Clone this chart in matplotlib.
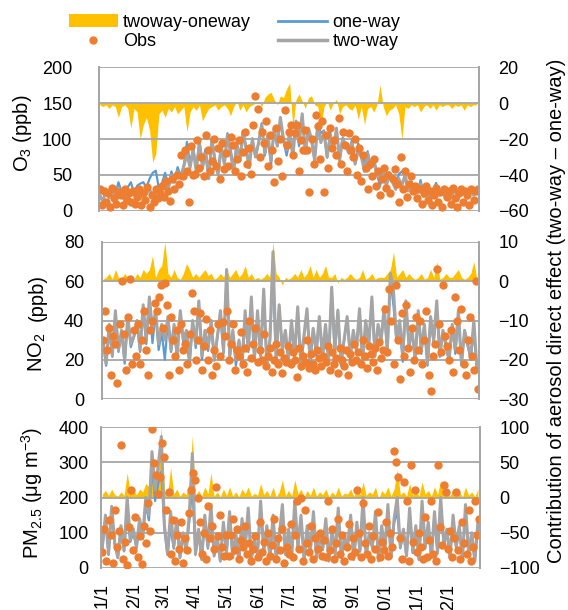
import numpy as np
import matplotlib
matplotlib.use('Agg')
import matplotlib.pyplot as plt
from matplotlib.lines import Line2D
from matplotlib.patches import Patch

plt.rcParams['font.family'] = ['Liberation Sans', 'Noto Sans CJK SC', 'DejaVu Sans']
plt.rcParams['mathtext.fontset'] = 'custom'
plt.rcParams['mathtext.rm'] = 'Liberation Sans'
plt.rcParams['mathtext.default'] = 'regular'

# x axis: day of year, model every 3rd day, obs every 2nd day
day = np.arange(0, 365, 3)
obs_day = np.arange(0, 365, 2)
month_start = [0, 31, 59, 90, 120, 151, 181, 212, 243, 273, 304, 334]
month_labels = ['1/1', '2/1', '3/1', '4/1', '5/1', '6/1', '7/1', '8/1', '9/1', '10/1', '11/1', '12/1']

# ---------------- O3 (ppb) ----------------
o3_two = [22, 12, 30, 18, 28, 20, 32, 25, 15, 30, 26,
          22, 30, 18, 28, 24, 30, 20, 28, 25,
          35, 45, 30, 50, 40, 55, 45, 62, 80, 60,
          85, 55, 95, 60, 80, 45, 100, 70, 50, 90,
          65, 105, 80, 55, 95, 70, 110, 85, 60, 100, 75,
          95, 120, 80, 105, 70, 115, 90, 130, 100, 85,
          110, 75, 125, 95, 135, 80, 115, 100, 70, 120,
          95, 110, 75, 105, 85, 115, 70, 100, 90, 80,
          95, 65, 85, 75, 55, 80, 60, 70, 50, 45,
          55, 35, 50, 40, 30, 45, 35, 50, 28, 40, 30,
          25, 38, 20, 32, 15, 28, 35, 22, 30, 18,
          28, 20, 32, 15, 30, 25, 18, 30, 22, 26]
o3_diff = [-1, -2, -1, -3, -1, -2, -8, -2, -1, -3, -14,
           -3, -5, -20, -12, -8, -15, -33, -28, -6,
           -4, -8, -3, -5, -2, -6, -4, -2, -16, -5,
           -2, -4, -1, -10, -6, -3, -2, -1, -4, -2,
           -1, -3, -7, -2, 1, -4, -1, -5, -2, -1, 0,
           1, -2, 3, 5, 6, 2, -1, 4, 3, 8,
           11, -14, 2, 5, 1, -3, 3, 4, -1, -2,
           -13, -2, 1, -4, 0, 2, -6, -2, -1, -3,
           -4, -1, -9, -2, -12, -3, -2, -5, -1, 10,
           -2, -7, -4, -3, -1, -6, -20, -2, -3, -1, -2,
           -1, -5, -2, -1, -3, -1, -4, -1, -2, -1,
           -1, -3, -1, -2, -1, -4, -1, -2, -1, -1]
o3_obs = [30, 8, 28, 12, 25, 5, 32, 18, 10, 27, 22, 8, 30, 15, 25, 12,
          28, 10, 20, 30, 8, 25, 15, 33, 5, 22, 12, 30, 18, 25,
          35, 20, 42, 28, 14, 45, 30, 50, 38, 78, 48, 85, 55, 13, 90, 50,
          52, 98, 60, 75, 48, 105, 85, 55, 70, 100, 62, 88, 45, 95, 58,
          80, 62, 103, 92, 55, 72, 98, 48, 82, 110, 65, 88, 52, 120, 160,
          142, 75, 110, 95, 125, 62, 105, 85, 40, 115, 70, 100, 48, 140, 92,
          110, 120, 78, 108, 120, 55, 98, 85, 112, 85, 26, 100, 65, 133, 118, 72,
          125, 27, 105, 60, 115, 88, 98, 78, 129, 65, 110, 92, 55, 108, 85,
          75, 100, 50, 88, 42, 78, 60, 30, 65, 48, 72, 35, 55, 22, 45,
          60, 32, 50, 25, 45, 58, 38, 12, 75, 30, 55, 20, 38, 48, 28, 35,
          18, 30, 10, 25, 35, 15, 28, 8, 22, 32, 12, 26, 5, 30, 20,
          28, 10, 32, 18, 5, 25, 30, 12, 28, 22, 8, 30, 15, 28, 30]

# ---------------- NO2 (ppb) ----------------
no2_two = [30, 18, 38, 22, 45, 25, 35, 20, 42, 28, 32,
           40, 25, 48, 30, 52, 35, 45, 28, 38,
           30, 42, 25, 38, 22, 45, 30, 35, 20, 40,
           28, 50, 22, 35, 26, 40, 20, 32, 45, 24,
           66, 22, 35, 20, 30, 18, 45, 25, 52, 20, 45,
           22, 56, 18, 30, 75, 20, 48, 25, 35, 20,
           40, 22, 47, 18, 32, 46, 20, 36, 25, 42,
           22, 38, 20, 57, 25, 45, 18, 30, 42, 22,
           35, 25, 46, 20, 40, 28, 52, 22, 38, 30,
           47, 25, 64, 55, 30, 40, 22, 50, 28, 35, 20,
           45, 25, 38, 18, 42, 30, 50, 22, 35, 28,
           20, 38, 25, 45, 18, 35, 28, 22, 40, 15]
no2_diff = [0.5, 1, 2, 0.5, 3, 1, 0.5, 2, 1, 1.5, 0.5,
            2, 1, 3, 2, 3, 6.5, 1, 3, 4,
            10, 2, 1, 3, 1, 0.5, 2, 4.5, 3, 1,
            2, 1, 2, 3, 1.5, 2, 0.5, 1, 2, 1,
            3, 1, 2, 3, 1, 2, 4, 1, 2, 0.5, 1,
            0.5, 1, 2, 1, 10, 2, 1, -1, 1, 0.5,
            1, 2, 1, 3, 1, 2, 4, 1, 3, 1,
            2, 4, 1, 1, 2, -0.5, 1, 0.5, 1, 2,
            1, 0.5, 1, 3, 0.5, 1, 2, 0.5, 1, 1,
            1, 2, 3, 7.5, 1, 2, 3, 1, 2, 1, 0.5,
            1, 2, 0.5, 1, 3, 1, 5, 0.5, 1, 2,
            1, 1, 2, 3, 1, 0.5, 1, 2, 5, 0.5]
no2_obs = [30, 45, 25, 36, 12, 32, 28, 8, 38, 60, 33, 15, 42, 61, 18, 35,
           22, 38, 18, 30, 45, 25, 12, 35, 40, 49, 45, 52, 58, 36,
           59, 48, 12, 42, 30, 22, 35, 15, 38, 25, 28, 18, 33, 54, 45, 20,
           30, 44, 15, 27, 41, 20, 35, 12, 25, 17, 38, 22, 39, 32, 45,
           20, 28, 38, 15, 25, 22, 34, 18, 26, 14, 40, 21, 28, 36, 19,
           25, 20, 33, 17, 22, 26, 14, 20, 28, 18, 24, 13, 21, 19, 27,
           18, 24, 20, 11, 26, 17, 22, 19, 30, 16, 23, 18, 15, 25, 21, 17,
           22, 19, 27, 15, 24, 18, 21, 13, 26, 20, 17, 25, 12, 23, 19,
           28, 20, 24, 18, 30, 22, 16, 27, 23, 19, 26, 15, 29, 21, 25,
           46, 24, 56, 40, 18, 58, 30, 10, 44, 22, 48, 26, 14, 36, 20, 42,
           25, 40, 18, 30, 45, 12, 4, 22, 28, 66, 38, 24, 58, 32, 27,
           20, 35, 14, 52, 40, 25, 46, 18, 12, 30, 42, 22, 15, 60, 5]

# ---------------- PM2.5 (ug m-3) ----------------
pm_two = [60, 150, 40, 175, 70, 30, 120, 50, 200, 80, 110,
          60, 140, 90, 200, 150, 330, 220, 290, 373,
          120, 40, 160, 60, 140, 30, 100, 50, 150, 325,
          40, 110, 25, 150, 60, 180, 35, 90, 20, 130,
          45, 160, 30, 100, 20, 140, 60, 170, 25, 80, 40,
          190, 50, 120, 30, 150, 25, 90, 180, 40, 110,
          35, 190, 60, 150, 25, 120, 45, 160, 30, 100,
          55, 140, 20, 110, 40, 170, 30, 90, 60, 150,
          25, 130, 50, 200, 35, 100, 60, 160, 20, 120,
          50, 180, 30, 140, 200, 60, 110, 35, 170, 45, 120,
          25, 190, 60, 130, 30, 160, 45, 200, 70, 110,
          30, 150, 60, 120, 25, 180, 40, 100, 20, 130]
pm_diff = [5, 10, 3, 12, 4, 2, 8, 3, 35, 6, 10,
           4, 12, 8, 20, 15, 40, 30, 50, 100,
           10, 3, 43, 5, 12, 2, 8, 4, 20, 88,
           3, 10, 2, 15, 5, 35, 2, 8, 1, 12,
           3, 15, 2, 8, 1, 12, 5, 15, 2, 6, 3,
           20, 4, 10, 2, 15, 1, 8, 25, 3, 10,
           2, 25, 5, 12, 1, 10, 3, 15, 2, 8,
           4, 12, 1, 8, 3, 15, 2, 6, 5, 12,
           2, 10, 4, 22, 3, 8, 5, 15, -2, 10,
           5, 15, 2, 12, 40, 4, 8, 2, 20, 3, 10,
           2, 22, 5, 10, 2, 15, 4, 25, 6, 10,
           2, 12, 5, 8, 1, 15, 3, 8, 1, 12]
pm_obs = [45, 110, 20, 135, 95, 15, 165, 60, 105, 350, 25, 75, 8, 115, 220, 50,
          145, 30, 90, 10, 120, 70, 185, 105, 393, 297, 265, 210, 257, 354,
          316, 165, 216, 40, 135, 20, 95, 55, 130, 15, 85, 50, 155, 220, 269, 250,
          200, 130, 40, 100, 25, 175, 85, 120, 55, 230, 90, 150, 60, 35, 95,
          35, 95, 140, 50, 110, 25, 80, 60, 120, 40, 70, 20, 55, 90, 30,
          130, 45, 75, 20, 100, 35, 65, 140, 25, 85, 50, 110, 15, 60, 40,
          125, 30, 95, 190, 55, 200, 20, 165, 70, 45, 120, 25, 85, 55, 100, 35,
          80, 30, 190, 50, 110, 25, 70, 140, 40, 95, 20, 60, 125, 35, 85,
          45, 220, 100, 30, 185, 70, 40, 120, 25, 90, 55, 160, 30, 75, 50,
          130, 35, 100, 60, 332, 300, 257, 85, 25, 245, 190, 20, 292, 75, 220, 45,
          100, 60, 25, 145, 30, 80, 190, 40, 20, 292, 115, 65, 235, 215, 55,
          105, 30, 85, 216, 50, 25, 130, 70, 40, 165, 20, 60, 190, 95, 140]

yellow = '#FFC000'
blue = '#5B9BD5'
grey = '#A5A5A5'
orange = '#ED7D31'
gridc = '#A6A6A6'
fs = 13      # tick labels / legend
tfs = 14.5   # axis titles

fig = plt.figure(figsize=(5.68, 6.10), dpi=100)
W, H = 568.0, 610.0


def panel(x0, x1, ytop, ybot, two, diff, obs, ylim, yticks, rlim, rticks, lpad, last=False):
    ax = fig.add_axes([x0 / W, 1 - ybot / H, (x1 - x0) / W, (ybot - ytop) / H])
    ax2 = ax.twinx()
    ax2.fill_between(day, 0, diff, color=yellow, lw=0)
    one = np.array(two) - np.array(diff)
    ax.plot(day, one, color=blue, lw=1.6)
    ax.plot(day, two, color=grey, lw=2.2)
    ax.plot(obs_day, obs, 'o', color=orange, ms=6, mew=0)
    ax.set_zorder(ax2.get_zorder() + 1)
    ax.patch.set_visible(False)

    ax.set_xlim(-1, 365)
    ax.set_ylim(*ylim)
    ax.set_yticks(yticks)
    ax2.set_ylim(*rlim)
    ax2.set_yticks(rticks)
    ax.yaxis.grid(True, color=gridc, lw=1.3)
    ax.set_axisbelow(True)
    for a in (ax, ax2):
        a.spines['top'].set_visible(False)
        a.spines['bottom'].set_visible(False)
        a.spines['left'].set_color(gridc)
        a.spines['right'].set_color(gridc)
        a.spines['left'].set_linewidth(1.3)
        a.spines['right'].set_linewidth(1.3)
    ax.tick_params(axis='y', length=0, labelsize=fs, pad=lpad)
    ax2.tick_params(axis='y', length=0, labelsize=fs, pad=14)
    if last:
        ax.set_xticks(month_start)
        ax.set_xticklabels(month_labels, rotation=90, fontsize=fs)
        ax.tick_params(axis='x', length=0, pad=11)
    else:
        ax.set_xticks([])
    return ax


panel(98.7, 478.7, 67, 211, o3_two, o3_diff, o3_obs,
      (0, 200), [0, 50, 100, 150, 200], (-60, 20), [-60, -40, -20, 0, 20], 19)
panel(102, 479, 242, 399, no2_two, no2_diff, no2_obs,
      (0, 80), [0, 20, 40, 60, 80], (-30, 10), [-30, -20, -10, 0, 10], 13)
panel(101.3, 480, 427, 568, pm_two, pm_diff, pm_obs,
      (0, 400), [0, 100, 200, 300, 400], (-100, 100), [-100, -50, 0, 50, 100], 9, last=True)

# axis titles
fig.text(23 / W, 1 - 133 / H, 'O$_3$ (ppb)', rotation=90, ha='center', va='center', fontsize=tfs)
fig.text(32 / W, 1 - 493 / H, 'PM$_{2.5}$ (μg m$^{-3}$)', rotation=90, ha='center', va='center', fontsize=tfs)
t1 = fig.text(37 / W, 1 - 372 / H, 'NO$_2$', rotation=90, ha='center', va='bottom', fontsize=tfs)
fig.canvas.draw()
bb = t1.get_window_extent()
# full-width brackets: leave the wide gap in front of "(ppb)"
fig.text(37 / W, (bb.y1 + 11) / fig.bbox.height, '(ppb)', rotation=90, ha='center', va='bottom',
         fontsize=tfs)
fig.text(557 / W, 1 - 311 / H, 'Contribution of aerosol direct effect (two-way – one-way)',
         rotation=90, ha='center', va='center', fontsize=tfs)

handles = [Patch(facecolor=yellow, edgecolor='none'),
           Line2D([], [], ls='none', marker='o', color=orange, ms=6, mew=0),
           Line2D([], [], color=blue, lw=2),
           Line2D([], [], color=grey, lw=2.5)]
labels = ['twoway-oneway', 'Obs', 'one-way', 'two-way']
fig.legend(handles, labels, ncol=2, loc='upper left', bbox_to_anchor=(69 / W, 1 - 14 / H),
           frameon=False, fontsize=fs, handlelength=2.7, columnspacing=1.5,
           handletextpad=0.3, labelspacing=0.12, borderaxespad=0, borderpad=0)

fig.savefig('out.png', dpi=100)
